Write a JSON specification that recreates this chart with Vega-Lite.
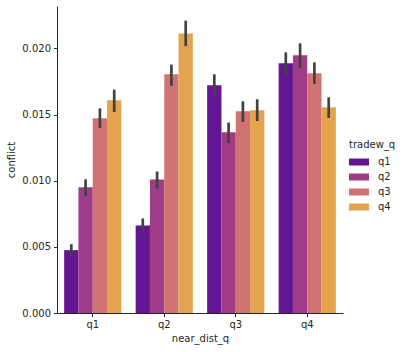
{
  "$schema": "https://vega.github.io/schema/vega-lite/v6.json",
  "width": 286,
  "height": 307,
  "autosize": {"type": "none"},
  "padding": {"left": 57, "top": 6, "right": 60, "bottom": 39},
  "background": "white",
  "config": {
    "view": {"stroke": null},
    "font": "DejaVu Sans",
    "axis": {
      "labelFont": "DejaVu Sans", "titleFont": "DejaVu Sans",
      "labelFontSize": 10, "titleFontSize": 10, "titleFontWeight": "normal",
      "labelColor": "#262626", "titleColor": "#262626",
      "domainColor": "#262626", "tickColor": "#262626", "grid": false,
      "tickSize": 3.5, "domainWidth": 1, "tickWidth": 1
    },
    "legend": {
      "labelFont": "DejaVu Sans", "titleFont": "DejaVu Sans",
      "labelFontSize": 10, "titleFontSize": 10, "titleFontWeight": "normal",
      "labelColor": "#262626", "titleColor": "#262626"
    }
  },
  "data": {"values": [
    {"near_dist_q": "q1", "tradew_q": "q1", "conflict": 0.00475, "lo": 0.0043, "hi": 0.0052},
    {"near_dist_q": "q1", "tradew_q": "q2", "conflict": 0.00951, "lo": 0.00885, "hi": 0.0101},
    {"near_dist_q": "q1", "tradew_q": "q3", "conflict": 0.01472, "lo": 0.01399, "hi": 0.01547},
    {"near_dist_q": "q1", "tradew_q": "q4", "conflict": 0.01608, "lo": 0.01519, "hi": 0.01688},
    {"near_dist_q": "q2", "tradew_q": "q1", "conflict": 0.00662, "lo": 0.00606, "hi": 0.00715},
    {"near_dist_q": "q2", "tradew_q": "q2", "conflict": 0.01009, "lo": 0.00941, "hi": 0.01069},
    {"near_dist_q": "q2", "tradew_q": "q3", "conflict": 0.01804, "lo": 0.01716, "hi": 0.01877},
    {"near_dist_q": "q2", "tradew_q": "q4", "conflict": 0.02113, "lo": 0.02017, "hi": 0.02209},
    {"near_dist_q": "q3", "tradew_q": "q1", "conflict": 0.01721, "lo": 0.01633, "hi": 0.01804},
    {"near_dist_q": "q3", "tradew_q": "q2", "conflict": 0.01366, "lo": 0.01285, "hi": 0.01439},
    {"near_dist_q": "q3", "tradew_q": "q3", "conflict": 0.01525, "lo": 0.01444, "hi": 0.016},
    {"near_dist_q": "q3", "tradew_q": "q4", "conflict": 0.01532, "lo": 0.01451, "hi": 0.01615},
    {"near_dist_q": "q4", "tradew_q": "q1", "conflict": 0.01887, "lo": 0.01791, "hi": 0.0197},
    {"near_dist_q": "q4", "tradew_q": "q2", "conflict": 0.01947, "lo": 0.01851, "hi": 0.02038},
    {"near_dist_q": "q4", "tradew_q": "q3", "conflict": 0.01811, "lo": 0.01731, "hi": 0.01894},
    {"near_dist_q": "q4", "tradew_q": "q4", "conflict": 0.01555, "lo": 0.01474, "hi": 0.0163}
  ]},
  "encoding": {
    "x": {
      "field": "near_dist_q", "type": "nominal",
      "scale": {"paddingInner": 0.2, "paddingOuter": 0.1},
      "axis": {"labelAngle": 0, "title": "near_dist_q", "titlePadding": 4, "labelPadding": 3}
    },
    "xOffset": {"field": "tradew_q", "type": "nominal", "scale": {"paddingInner": 0, "paddingOuter": 0}}
  },
  "layer": [
    {
      "mark": {"type": "bar"},
      "encoding": {
        "y": {
          "field": "conflict", "type": "quantitative",
          "scale": {"domain": [0, 0.0232], "nice": false, "zero": true},
          "axis": {"title": "conflict", "format": ".3f", "values": [0, 0.005, 0.01, 0.015, 0.02], "titlePadding": 5, "labelPadding": 3}
        },
        "color": {
          "field": "tradew_q", "type": "nominal",
          "scale": {"range": ["#641593", "#a03b87", "#d17372", "#e3a34f"]},
          "legend": {
            "title": "tradew_q", "orient": "none", "legendX": 292, "legendY": 134,
            "symbolType": "M-1,-0.35L1,-0.35L1,0.35L-1,0.35Z",
            "symbolSize": 400, "symbolStrokeWidth": 0, "symbolOpacity": 1,
            "rowPadding": 0, "labelOffset": 9, "titlePadding": 2
          }
        }
      }
    },
    {
      "mark": {"type": "rule", "color": "#424242", "strokeWidth": 2.7},
      "encoding": {
        "y": {"field": "lo", "type": "quantitative"},
        "y2": {"field": "hi"}
      }
    }
  ]
}
